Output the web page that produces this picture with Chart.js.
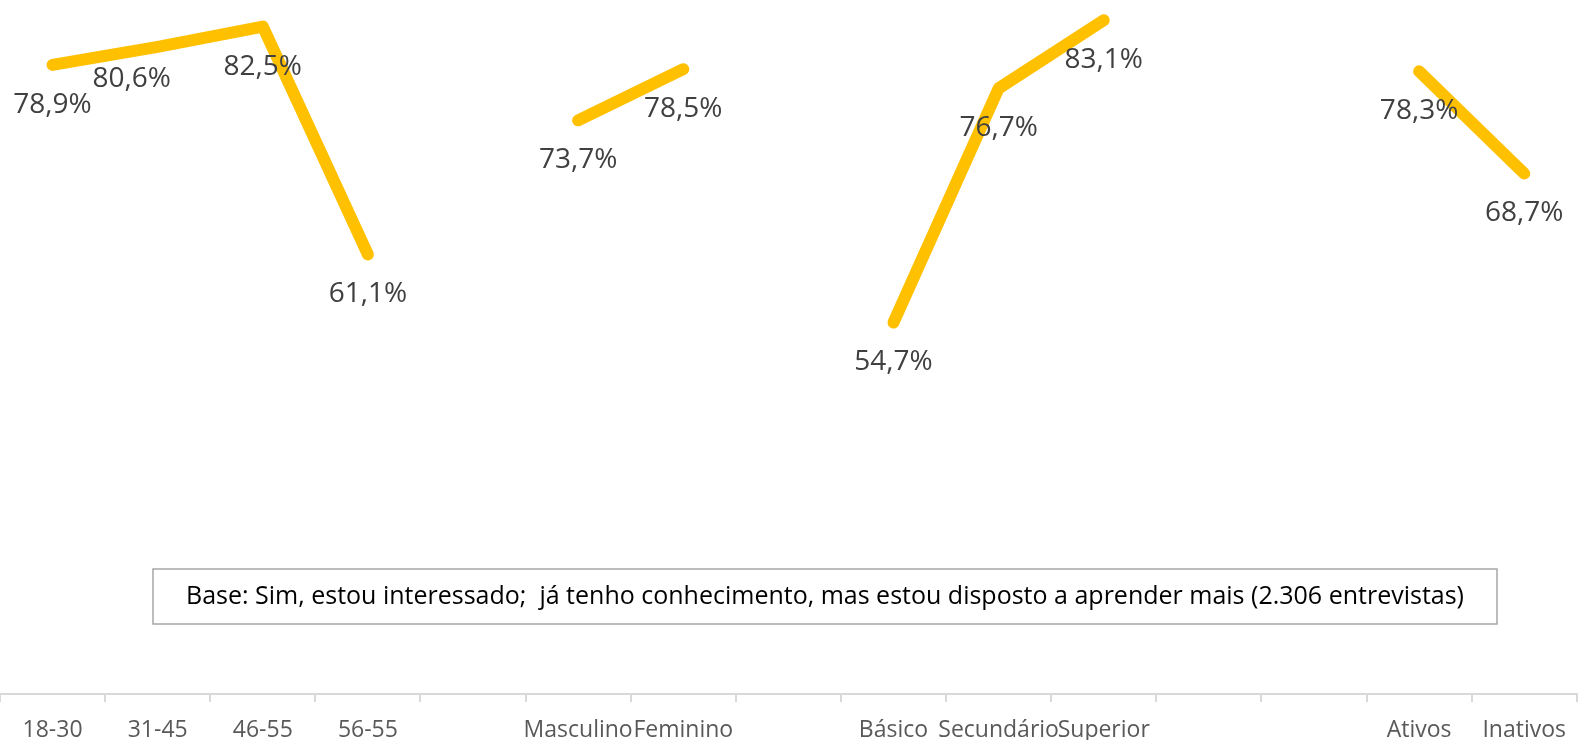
<!DOCTYPE html>
<html>
<head>
<meta charset="utf-8">
<script src="https://cdn.jsdelivr.net/npm/chart.js@4/dist/chart.umd.min.js"></script>
<style>
  html, body { margin: 0; padding: 0; background: #fff; }
  #wrap { position: relative; width: 1581px; height: 740px; }
</style>
</head>
<body>
<div id="wrap"><canvas id="interesseChart"></canvas></div>
<script>
// ===== Data =====
const categorias = ['18-30', '31-45', '46-55', '56-55', '', 'Masculino', 'Feminino', '',
  'Básico', 'Secundário', 'Superior', '', '', 'Ativos', 'Inativos'];
const interessados = [78.9, 80.6, 82.5, 61.1, null, 73.7, 78.5, null,
  54.7, 76.7, 83.1, null, null, 78.3, 68.7];
const notaBase = 'Base: Sim, estou interessado;  já tenho conhecimento, mas estou disposto a aprender mais (2.306 entrevistas)';

// label nudges (px) for the value labels, default is straight below the point
const labelShift = { 1: { dx: -26, dy: 32 } };

const FONT = "'Open Sans', 'Liberation Sans', sans-serif";

// value labels + note box drawn on the canvas
const labelsPlugin = {
  id: 'valueLabels',
  afterDatasetsDraw(chart) {
    const ctx = chart.ctx;
    const meta = chart.getDatasetMeta(0);
    ctx.save();
    ctx.font = '28px ' + FONT;
    ctx.fillStyle = '#404040';
    ctx.textAlign = 'center';
    ctx.textBaseline = 'middle';
    meta.data.forEach((pt, i) => {
      const v = interessados[i];
      if (v === null) return;
      const s = labelShift[i] || { dx: 0, dy: 40 };
      ctx.fillText(v.toFixed(1).replace('.', ',') + '%', pt.x + s.dx, pt.y + s.dy);
    });

    // note box
    const bx = 153, by = 569, bw = 1344, bh = 55;
    ctx.fillStyle = '#fff';
    ctx.fillRect(bx, by, bw, bh);
    ctx.strokeStyle = '#a6a6a6';
    ctx.lineWidth = 1.5;
    ctx.strokeRect(bx, by, bw, bh);
    ctx.fillStyle = '#000';
    ctx.font = '25px ' + FONT;
    ctx.fillText(notaBase, bx + bw / 2, by + bh / 2);
    ctx.restore();
  }
};

const ctx = document.getElementById('interesseChart').getContext('2d');
const chart = new Chart(ctx, {
  type: 'line',
  data: {
    labels: categorias,
    datasets: [{
      data: interessados,
      borderColor: '#FFC000',
      borderWidth: 12,
      borderCapStyle: 'round',
      borderJoinStyle: 'round',
      pointRadius: 0,
      spanGaps: false,
      tension: 0,
      clip: false
    }]
  },
  options: {
    responsive: true,
    maintainAspectRatio: false,
    animation: false,
    layout: { padding: 0 },
    plugins: {
      legend: { display: false },
      tooltip: { enabled: false }
    },
    scales: {
      x: {
        offset: true,
        grid: {
          offset: true,
          drawOnChartArea: false,
          color: '#d9d9d9',
          lineWidth: 2,
          tickLength: 8
        },
        border: { color: '#d9d9d9', width: 2 },
        ticks: {
          autoSkip: false,
          maxRotation: 0,
          padding: 15,
          color: '#595959',
          font: { family: FONT, size: 23 }
        },
        afterFit(scale) { scale.height = 46; }
      },
      y: {
        display: false,
        min: 19.8,
        max: 85
      }
    }
  },
  plugins: [labelsPlugin]
});
</script>
</body>
</html>
